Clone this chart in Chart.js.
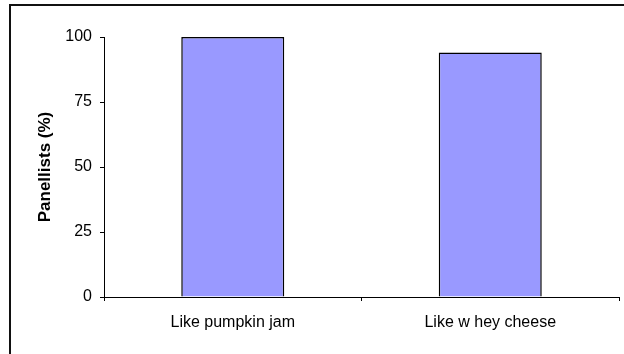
<!DOCTYPE html>
<html>
<head>
<meta charset="utf-8">
<style>
  html, body { margin: 0; padding: 0; background: #fff; }
  #wrap { position: relative; width: 624px; height: 354px; overflow: hidden; }
  #frame {
    position: absolute; left: 9px; top: 4px; width: 700px; height: 400px;
    border-left: 2px solid #111; border-top: 2px solid #111;
    pointer-events: none;
  }
  canvas { position: absolute; left: 0; top: 0; }
</style>
<script src="https://cdn.jsdelivr.net/npm/chart.js@4/dist/chart.umd.min.js"></script>
</head>
<body>
<div id="wrap">
  <canvas id="chart" width="624" height="354"></canvas>
  <div id="frame"></div>
</div>
<script>
'use strict';

const categories = ['Like pumpkin jam', 'Like w hey cheese'];
const panellists = [100, 94];
const yTicks = [0, 25, 50, 75, 100];

(() => {
  const FONT = '"Liberation Sans", Arial, sans-serif';
  const ctx = document.getElementById('chart');

  new Chart(ctx, {
    type: 'bar',
    data: {
      labels: categories,
      datasets: [
        {
          data: panellists,
          backgroundColor: '#9999ff',
          borderColor: '#000',
          borderWidth: 1.5,
          barPercentage: 0.4,
          categoryPercentage: 1
        }
      ]
    },
    options: {
      responsive: false,
      animation: false,
      layout: { padding: { top: 37, right: 5, bottom: 0, left: 0 } },
      plugins: {
        legend: { display: false },
        tooltip: { enabled: false }
      },
      scales: {
        x: {
          grid: { drawOnChartArea: false, tickLength: 4, color: '#000', offset: true },
          border: { color: '#000', width: 1 },
          ticks: { color: '#000', padding: 12, font: { family: FONT, size: 16 } },
          afterFit(scale) { scale.height = 57; }
        },
        y: {
          min: 0,
          max: 100,
          afterBuildTicks(scale) { scale.ticks = yTicks.map((v) => ({ value: v })); },
          grid: { drawOnChartArea: false, tickLength: 4, color: '#000' },
          border: { color: '#000', width: 1 },
          ticks: { color: '#000', padding: 8, font: { family: FONT, size: 16 } },
          title: {
            display: true,
            text: 'Panellists (%)',
            color: '#000',
            padding: { top: 35, bottom: 0 },
            font: { family: FONT, size: 17, weight: 'bold' }
          },
          afterFit(scale) { scale.width = 104; }
        }
      }
    }
  });
})();
</script>
</body>
</html>
